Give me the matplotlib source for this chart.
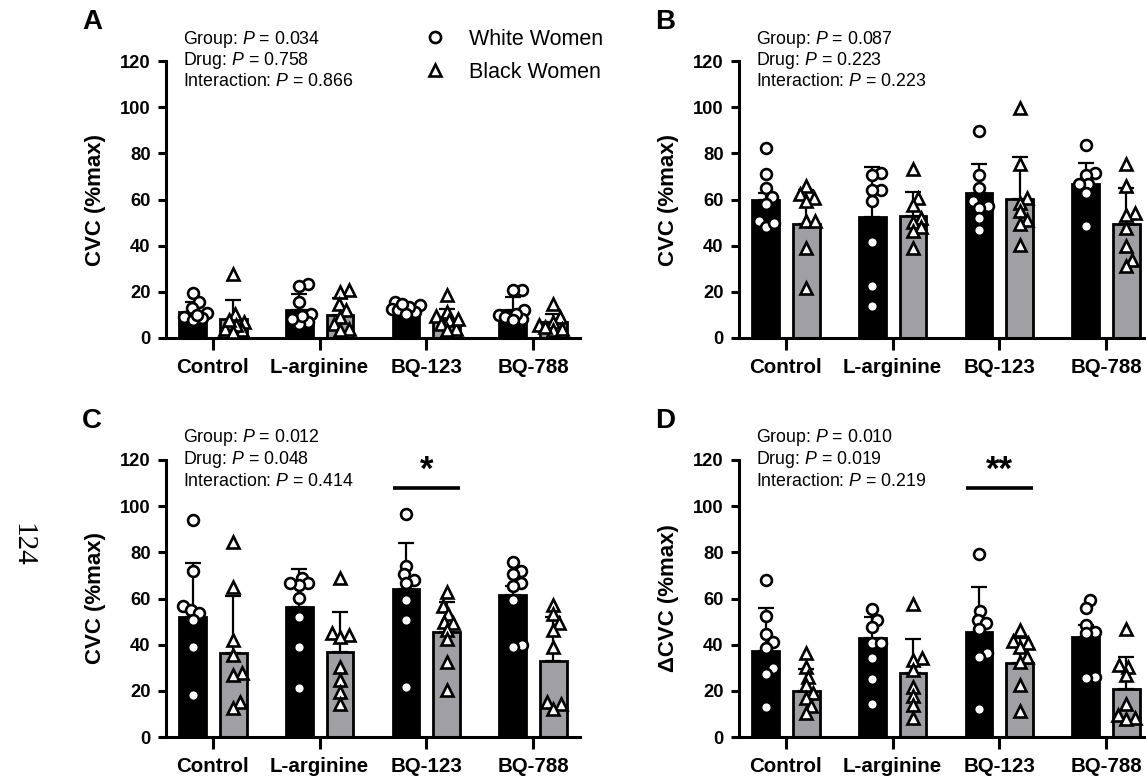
import numpy as np
import matplotlib
matplotlib.use('Agg')
import matplotlib.pyplot as plt
from matplotlib.lines import Line2D

plt.rcParams['font.family'] = 'Liberation Sans'
plt.rcParams['mathtext.fontset'] = 'custom'
plt.rcParams['mathtext.rm'] = 'Liberation Sans'
plt.rcParams['mathtext.it'] = 'Liberation Sans:italic'

##############################################################################
# Data
drugs = ['Control', 'L-arginine', 'BQ-123', 'BQ-788']
groups = ['White Women', 'Black Women']

# Panel A
a_white_mean = [11.3, 12.3, 10.5, 12.0]
a_white_sd = [4.2, 6.9, 2.0, 5.8]
a_black_mean = [8.4, 9.8, 7.7, 7.0]
a_black_sd = [8.2, 7.5, 5.0, 3.5]
a_white_pts = [[19.7, 15.6, 13.0, 11.0, 9.0, 8.5, 8.0, 10.0],
               [23.3, 22.4, 15.6, 10.5, 7.0, 6.2, 9.4, 8.4],
               [15.6, 14.2, 12.7, 11.3, 12.0, 13.4, 10.5, 14.9],
               [21.0, 20.7, 12.0, 9.8, 8.4, 9.1, 10.5, 7.7]]
a_black_pts = [[27.9, 10.5, 7.0, 4.0, 3.3, 5.5, 2.6, 7.7],
               [21.0, 20.0, 14.6, 12.0, 9.1, 6.2, 4.0, 3.3],
               [18.5, 11.3, 9.4, 7.7, 6.2, 4.0, 3.3, 8.4],
               [14.9, 9.1, 7.0, 5.5, 3.3, 4.8, 4.0]]

# Panel B
b_white_mean = [59.6, 52.3, 62.9, 66.8]
b_white_sd = [3.0, 21.9, 12.6, 9.2]
b_black_mean = [49.2, 52.8, 60.4, 49.4]
b_black_sd = [15.1, 10.5, 18.0, 15.4]
b_white_pts = [[82.4, 71.1, 65.0, 61.0, 58.1, 50.6, 48.0, 49.9],
               [71.3, 70.8, 64.3, 63.9, 59.3, 41.6, 22.4, 14.0],
               [89.6, 70.8, 65.0, 59.3, 57.1, 56.4, 52.0, 46.6],
               [83.4, 71.6, 70.8, 66.5, 62.9, 66.8, 48.4]]
b_black_pts = [[65.8, 62.2, 60.7, 59.3, 50.6, 50.6, 39.0, 21.7],
               [73.3, 60.7, 57.5, 52.0, 50.3, 48.0, 46.3, 39.0],
               [99.8, 75.2, 60.7, 58.6, 54.9, 51.3, 49.2, 40.5],
               [75.2, 65.8, 54.2, 53.5, 47.7, 39.8, 34.0, 31.1]]

# Panel C
c_white_mean = [52.2, 56.3, 63.9, 61.4]
c_white_sd = [23.0, 16.3, 20.3, 4.0]
c_black_mean = [36.3, 37.0, 45.3, 33.1]
c_black_sd = [24.7, 17.0, 13.0, 19.1]
c_white_pts = [[94.0, 72.1, 56.6, 55.2, 53.7, 50.8, 38.9, 18.1],
               [68.9, 66.8, 66.0, 66.8, 60.2, 52.2, 39.2, 21.3],
               [96.5, 74.0, 70.4, 68.2, 66.8, 59.5, 50.5, 21.5],
               [75.8, 71.8, 70.4, 66.8, 65.3, 59.5, 39.9, 39.2]]
c_black_pts = [[84.5, 65.0, 42.1, 35.6, 27.6, 26.9, 15.0, 12.6],
               [68.9, 45.0, 44.3, 43.5, 30.5, 24.7, 19.6, 14.5],
               [62.7, 56.6, 53.4, 50.0, 49.3, 46.4, 42.4, 32.7, 20.3],
               [57.3, 53.4, 49.3, 46.4, 39.2, 15.2, 14.2, 12.3]]

# Panel D
d_white_mean = [37.4, 42.8, 45.7, 43.5]
d_white_sd = [18.5, 9.4, 19.3, 5.0]
d_black_mean = [19.9, 27.9, 31.9, 20.6]
d_black_sd = [9.4, 14.5, 10.9, 13.9]
d_white_pts = [[67.9, 52.5, 44.7, 41.1, 38.5, 29.8, 27.3, 13.1],
               [55.4, 50.8, 47.6, 40.6, 40.6, 34.1, 25.0, 14.1],
               [79.4, 54.4, 50.8, 49.3, 46.7, 36.3, 34.5, 12.3],
               [59.2, 55.9, 48.6, 45.7, 44.9, 26.1, 25.4]]
d_black_pts = [[36.3, 30.2, 26.1, 22.5, 19.2, 16.7, 13.4, 10.2],
               [57.8, 34.1, 33.4, 29.0, 21.8, 17.7, 13.8, 8.3],
               [46.4, 41.8, 40.6, 39.2, 34.8, 32.7, 22.5, 11.3],
               [46.7, 31.2, 30.5, 26.9, 14.5, 9.4, 8.4, 8.0]]

stats_a = ['0.034', '0.758', '0.866']
stats_b = ['0.087', '0.223', '0.223']
stats_c = ['0.012', '0.048', '0.414']
stats_d = ['0.010', '0.019', '0.219']

##############################################################################
W, H = 1146, 780
fig = plt.figure(figsize=(W / 100, H / 100), dpi=100)

GRAY = '#a0a0a4'
off, bw = 0.19, 0.25
x = np.arange(len(drugs))


def swarm_offsets(vals, ypx, xscale, d=8.5, lim=14.0):
    # simple beeswarm: place each point as close to the centre as possible
    cands = [0.0]
    for k in np.arange(1.0, lim + 0.1, 1.0):
        cands += [k, -k]
    placed = []
    out = np.zeros(len(vals))
    for i in np.argsort(ypx):
        best, best_score = 0.0, -1
        for c in cands:
            if not placed:
                best = c
                break
            dist = min(np.hypot(c - px, ypx[i] - py) for px, py in placed)
            if dist >= d:
                best = c
                break
            if dist > best_score:
                best, best_score = c, dist
        placed.append((best, ypx[i]))
        out[i] = best / xscale
    return out


def panel(left, bottom, letter, ylabel, wm, wsd, bm, bsd, wpts, bpts, stats,
          sig=None):
    ax = fig.add_axes([left / W, 1 - bottom / H, 414 / W, 277 / H])
    ax.set_xlim(-0.44, 3.44)
    ax.set_ylim(0, 120)
    ax.bar(x - off, wm, bw, color='black', edgecolor='black', lw=2, zorder=1)
    ax.bar(x + off, bm, bw, color=GRAY, edgecolor='black', lw=2, zorder=1)
    ax.errorbar(x - off, wm, yerr=[np.zeros(4), wsd], fmt='none', ecolor='black',
                elinewidth=1.6, capsize=6, capthick=1.6, zorder=2)
    ax.errorbar(x + off, bm, yerr=[np.zeros(4), bsd], fmt='none', ecolor='black',
                elinewidth=1.6, capsize=6, capthick=1.6, zorder=2)

    fig.canvas.draw()
    xscale = ax.transData.transform((1, 0))[0] - ax.transData.transform((0, 0))[0]
    for i in range(4):
        for pts, sh, mk in ((wpts[i], -off, 'o'), (bpts[i], off, '^')):
            pts = np.asarray(pts)
            ypx = ax.transData.transform(np.c_[np.zeros(len(pts)), pts])[:, 1]
            jit = swarm_offsets(pts, ypx, xscale)
            ax.plot(x[i] + sh + jit, pts, ls='none', marker=mk, ms=7.8 if mk == 'o' else 8.5,
                    mfc='white', mec='black', mew=1.9, clip_on=False, zorder=3)

    for s in ['top', 'right']:
        ax.spines[s].set_visible(False)
    for s in ['left', 'bottom']:
        ax.spines[s].set_linewidth(2.2)
    ax.set_yticks(range(0, 121, 20))
    ax.set_xticks(x)
    ax.set_xticklabels(drugs, fontsize=14.8, fontweight='bold')
    ax.tick_params(axis='y', length=6, width=2.2, labelsize=13.2, pad=5)
    ax.tick_params(axis='x', length=8.5, width=2.2, pad=6)
    for lab in ax.get_yticklabels():
        lab.set_fontweight('bold')
    ax.set_ylabel(ylabel, fontsize=16, fontweight='bold', labelpad=10)

    fig.text((left - 84) / W, 1 - (bottom - 316) / H, letter, fontsize=20,
             fontweight='bold', ha='left', va='center')
    names = ['Group', 'Drug', 'Interaction']
    for k, (nm, p) in enumerate(zip(names, stats)):
        fig.text((left + 17) / W, 1 - (bottom - 299 + 21.5 * k) / H,
                 nm + ': $P$ = ' + p, fontsize=12.8, ha='left', va='center')
    if sig is not None:
        x0, x1 = x[2] - off - bw / 2, x[2] + off + bw / 2
        ax.plot([x0, x1], [108, 108], color='black', lw=2.6, clip_on=False,
                solid_capstyle='butt')
        ax.text(x[2], 108.5, sig, ha='center', va='bottom', fontsize=25,
                fontweight='bold')
    return ax


panel(166, 338, 'A', 'CVC (%max)', a_white_mean, a_white_sd, a_black_mean,
      a_black_sd, a_white_pts, a_black_pts, stats_a)
panel(739, 338, 'B', 'CVC (%max)', b_white_mean, b_white_sd, b_black_mean,
      b_black_sd, b_white_pts, b_black_pts, stats_b)
panel(166, 737, 'C', 'CVC (%max)', c_white_mean, c_white_sd, c_black_mean,
      c_black_sd, c_white_pts, c_black_pts, stats_c, sig='*')
panel(739, 737, 'D', 'ΔCVC (%max)', d_white_mean, d_white_sd, d_black_mean,
      d_black_sd, d_white_pts, d_black_pts, stats_d, sig='**')

handles = [Line2D([], [], ls='none', marker='o', ms=8, mfc='white', mec='black', mew=1.9),
           Line2D([], [], ls='none', marker='^', ms=8, mfc='white', mec='black', mew=1.9)]
fig.legend(handles, groups, loc='upper left', bbox_to_anchor=(424 / W, 1 - 29 / H),
           frameon=False, fontsize=15.5, handlelength=1.0, handletextpad=1.1,
           labelspacing=0.55, borderpad=0, borderaxespad=0)

fig.text(22 / W, 1 - 545 / H, '124', rotation=-90, fontsize=21,
         family='Liberation Serif', ha='center', va='center')

fig.savefig('out.png', dpi=100)
